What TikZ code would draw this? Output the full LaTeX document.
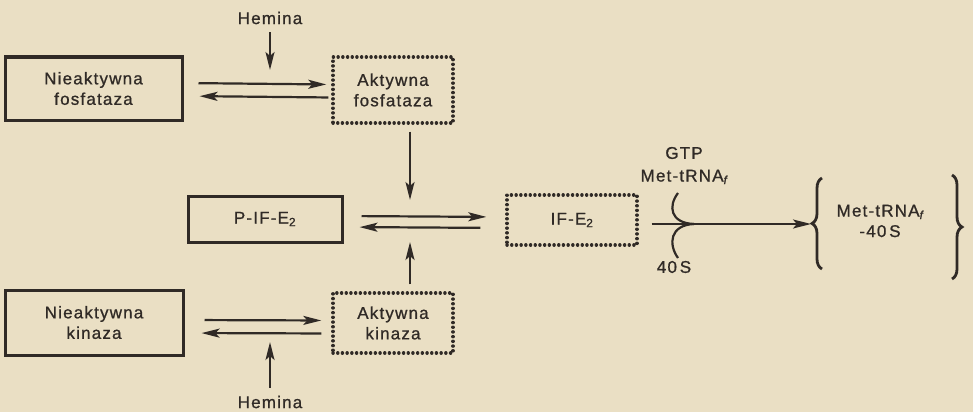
\documentclass[tikz,border=0pt]{standalone}
\usepackage{fontspec}
\setmainfont{Liberation Sans}[LetterSpace=7,FakeBold=0.9]
\usetikzlibrary{arrows.meta,decorations.pathreplacing}
\definecolor{paper}{RGB}{234,223,196}
\definecolor{ink}{RGB}{48,42,38}
\tikzset{
  solidbox/.style={draw=ink, line width=3pt, minimum width=#1, align=center, inner sep=0pt},
  dotbox/.style={draw=ink, line width=3.4pt, line cap=round, dash pattern=on 0.1pt off 4.6pt, align=center, inner sep=0pt},
  lbl/.style={text=ink, font=\fontsize{17}{20.5}\selectfont, align=center, inner sep=0pt},
  arr/.style={draw=ink, line width=2.2pt, -{Stealth[length=18pt,width=9pt,inset=4pt]}},
  brc/.style={draw=ink, line width=2.8pt, decorate, decoration={brace, amplitude=10pt}},
}
\begin{document}
\begin{tikzpicture}[x=1pt,y=-1pt]
\fill[paper] (0,0) rectangle (973,412);
\useasboundingbox (0,0) rectangle (973,412);
% boxes
\node[solidbox=177pt, minimum height=63pt, lbl] (nf) at (93.5,88.5) {Nieaktywna\\fosfataza};
\node[dotbox, minimum width=120pt, minimum height=66pt, lbl] (af) at (393,90) {Aktywna\\fosfataza};
\node[solidbox=154pt, minimum height=46pt, lbl] (pif) at (265,219) {P-IF-E\textsubscript{2}};
\node[dotbox, minimum width=130pt, minimum height=50pt, lbl] (ife) at (572,220) {IF-E\textsubscript{2}};
\node[solidbox=178pt, minimum height=65pt, lbl] (nk) at (94,322.5) {Nieaktywna\\kinaza};
\node[dotbox, minimum width=120pt, minimum height=60pt, lbl] (ak) at (393,323) {Aktywna\\kinaza};
% texts
\node[lbl] (h1) at (270,18) {Hemina};
\node[lbl] (h2) at (270,402) {Hemina};
\node[lbl] (gtp) at (684,153) {GTP};
\node[lbl] (met) at (684,177) {Met-tRNA\textsubscript{\itshape f}};
\node[lbl] (s40) at (674,267) {40\,S};
\node[lbl] (prod) at (880,221) {Met-tRNA\textsubscript{\itshape f}\\-40\,S};
% coordinates
\coordinate (h1e) at (270,70);
\coordinate (h2e) at (270,342);
\coordinate (v1e) at (410,200);
\coordinate (v2e) at (410,242);
\coordinate (arcT) at (678,193);
\coordinate (arcM) at (694,224);
\coordinate (arcB) at (678,258);
\coordinate (prodE) at (811,224);
% equilibrium arrows
\draw[arr, shorten <=15pt, shorten >=5pt] ([yshift=5.5pt]nf.east) -- ([yshift=5.5pt]af.west);
\draw[arr, shorten <=3pt, shorten >=16pt] ([yshift=-7.5pt]af.west) -- ([yshift=-7.5pt]nf.east);
\draw[arr, shorten <=18pt, shorten >=19pt] ([yshift=3pt]pif.east) -- ([yshift=3pt]ife.west);
\draw[arr, shorten <=25pt, shorten >=16pt] ([yshift=-8pt]ife.west) -- ([yshift=-8pt]pif.east);
\draw[arr, shorten <=20pt, shorten >=10pt] ([yshift=2.5pt]nk.east) -- ([yshift=2.5pt]ak.west);
\draw[arr, shorten <=10pt, shorten >=17pt] ([yshift=-10.5pt]ak.west) -- ([yshift=-10.5pt]nk.east);
% vertical arrows
\draw[arr, shorten <=8pt] (h1) -- (h1e);
\draw[arr, shorten <=8pt] (h2) -- (h2e);
\draw[arr, shorten <=7pt] ([xshift=17pt]af.south) -- (v1e);
\draw[arr, shorten <=7pt] ([xshift=17pt]ak.north) -- (v2e);
% main reaction arrow
\draw[arr, shorten <=13pt] (ife.east |- prodE) -- (prodE);
\draw[draw=ink, line width=2.2pt] (arcT) .. controls (668,206) and (670,223) .. (arcM);
\draw[draw=ink, line width=2.2pt] (arcB) .. controls (668,244) and (670,225) .. (arcM);
% braces
\draw[brc] (822,269) -- (822,178);
\draw[brc] (952,175) -- (952,279);
\end{tikzpicture}
\end{document}
